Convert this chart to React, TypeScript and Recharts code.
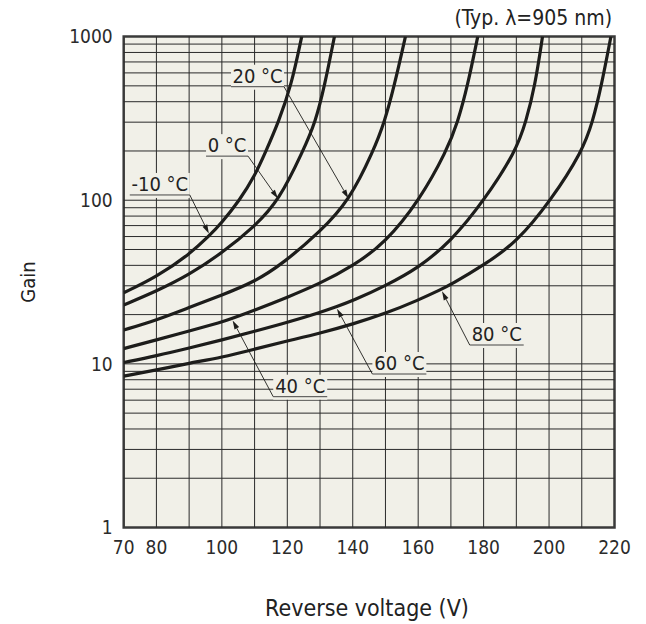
import {
  LineChart,
  Line,
  XAxis,
  YAxis,
  CartesianGrid,
  ReferenceLine,
  ReferenceArea,
  Customized,
} from "recharts";

const FONT = "'DejaVu Sans Condensed', 'DejaVu Sans', sans-serif";
const INK = "#1d1d1b";
const PAPER = "#f1f0e8";
const GRID = "#2a2a2a";

// Reverse voltage (V) and gain for each temperature
const voltM10 = [70, 80, 90, 96.3, 100, 105.4, 110, 113.5, 117.3, 121.2, 124.4];
const gainM10 = [27.2, 34, 46.5, 61, 73, 100, 140, 200, 300, 500, 1000];

const volt0 = [70, 80, 90, 100, 110, 117.5, 124.8, 128.6, 131.4, 134.4];
const gain0 = [22.9, 27.8, 35, 47.5, 69, 100, 200, 300, 500, 1000];

const volt20 = [70, 80, 90, 100, 110, 118.6, 130, 139, 146.3, 149.7, 152.7, 156.1];
const gain20 = [16.1, 18.5, 22.1, 26.3, 31.7, 41, 64, 100, 200, 300, 500, 1000];

const volt40 = [70, 80, 90, 100, 103, 110, 120, 130, 140, 150, 160.4, 168.7, 172.1, 175.1, 178.2];
const gain40 = [12.4, 14, 15.9, 18, 18.9, 21.3, 25.5, 31, 39.5, 55, 100, 200, 300, 500, 1000];

const volt60 = [70, 80, 90, 100, 110, 120, 130, 134.9, 140, 150, 160, 170, 180.2, 189.9, 192.9, 195.7, 198];
const gain60 = [10.2, 11.2, 12.5, 14, 15.8, 17.9, 20.6, 22.3, 24.3, 30, 38.5, 56, 100, 200, 300, 500, 1000];

const volt80 = [70, 80, 90, 100, 110, 120, 130, 140, 150, 160, 167, 170, 180, 190, 200.6, 210.2, 213.3, 216, 218.9];
const gain80 = [8.42, 9.17, 10.1, 10.96, 12.3, 13.8, 15.4, 17.5, 20.3, 24.5, 28.5, 30.5, 40.1, 55, 100, 200, 300, 500, 1000];

const voltTicks = [70, 80, 100, 120, 140, 160, 180, 200, 220];
const gainTicks = [1, 10, 100, 1000];
const voltGrid = [80, 90, 100, 110, 120, 130, 140, 150, 160, 170, 180, 190, 200, 210];
const gainGrid = [
  2, 3, 4, 5, 6, 7, 8, 9, 10,
  20, 30, 40, 50, 60, 70, 80, 90, 100,
  200, 300, 400, 500, 600, 700, 800, 900,
];

const toPoints = (v: number[], g: number[]) => v.map((x, i) => ({ v: x, g: g[i] }));

const curves = [
  { name: "-10 °C", data: toPoints(voltM10, gainM10) },
  { name: "0 °C", data: toPoints(volt0, gain0) },
  { name: "20 °C", data: toPoints(volt20, gain20) },
  { name: "40 °C", data: toPoints(volt40, gain40) },
  { name: "60 °C", data: toPoints(volt60, gain60) },
  { name: "80 °C", data: toPoints(volt80, gain80) },
];

// callout: underline anchor (V, gain), which curve point the arrow lands on,
// and whether the underlined text sits left or right of the anchor
const callouts = [
  { curve: 0, point: 3, at: [90.2, 107.7], side: "left", width: 60 },
  { curve: 1, point: 5, at: [108, 186], side: "left", width: 42 },
  { curve: 2, point: 7, at: [119, 494], side: "left", width: 53 },
  { curve: 3, point: 4, at: [115.7, 6.3], side: "right", width: 54 },
  { curve: 4, point: 7, at: [146, 8.67], side: "right", width: 54 },
  { curve: 5, point: 10, at: [175.75, 13.04], side: "right", width: 54 },
];

function Callout(props: any) {
  const { x1, y1, x2, y2, text, side, width } = props;
  const dx = x2 - x1;
  const dy = y2 - y1;
  const len = Math.hypot(dx, dy) || 1;
  const ux = dx / len;
  const uy = dy / len;
  // stop at the edge of the thick curve stroke
  const tx = x2 - ux * 2;
  const ty = y2 - uy * 2;
  const head = 9;
  const half = 2.6;
  const bx = tx - ux * head;
  const by = ty - uy * head;
  const pts = `${tx},${ty} ${bx - uy * half},${by + ux * half} ${bx + uy * half},${by - ux * half}`;
  const left = side === "left" ? x1 - width : x1;
  return (
    <g>
      <rect x={left} y={y1 - 22} width={width} height={25} fill={PAPER} />
      <line x1={left} y1={y1} x2={left + width} y2={y1} stroke="#444" strokeWidth={1} />
      <text
        x={left + width / 2}
        y={y1 - 4}
        textAnchor="middle"
        fontFamily={FONT}
        fontSize={20}
        fill="#222"
      >
        {text}
      </text>
      <line x1={x1} y1={y1} x2={bx} y2={by} stroke={INK} strokeWidth={0.9} />
      <polygon points={pts} fill={INK} />
    </g>
  );
}

function Titles() {
  return (
    <g fontFamily={FONT} fill="#222">
      <text x={612} y={25} textAnchor="end" fontSize={21}>
        (Typ. λ=905 nm)
      </text>
      <text
        x={28}
        y={282}
        textAnchor="middle"
        dominantBaseline="central"
        fontSize={20}
        transform="rotate(-90 28 282)"
      >
        Gain
      </text>
      <text x={367} y={608} textAnchor="middle" dominantBaseline="central" fontSize={23}>
        Reverse voltage (V)
      </text>
    </g>
  );
}

export default function App() {
  return (
    <div style={{ position: "absolute", left: 0, top: 0, width: 646, height: 624, background: "#fff" }}>
      <LineChart
        width={646}
        height={624}
        margin={{ top: 36.6, right: 31.5, bottom: 56.5, left: 63.7 }}
      >
        <CartesianGrid horizontal={false} vertical={false} fill={PAPER} fillOpacity={1} />
        <XAxis
          type="number"
          dataKey="v"
          domain={[70, 220]}
          ticks={voltTicks}
          interval={0}
          allowDataOverflow
          height={40}
          axisLine={false}
          tickLine={false}
          tickSize={0}
          tickMargin={13}
          tick={{ fill: "#2b2b2b", fontSize: 19, fontFamily: FONT }}
        />
        <YAxis
          type="number"
          scale="log"
          domain={[1, 1000]}
          ticks={gainTicks}
          interval={0}
          allowDataOverflow
          width={60}
          axisLine={false}
          tickLine={false}
          tickSize={0}
          tickMargin={11}
          tick={{ fill: "#2b2b2b", fontSize: 19, fontFamily: FONT }}
        />
        {voltGrid.map((v) => (
          <ReferenceLine key={`v${v}`} x={v} stroke={GRID} strokeWidth={1} />
        ))}
        {gainGrid.map((g) => (
          <ReferenceLine key={`g${g}`} y={g} stroke={GRID} strokeWidth={1} />
        ))}
        {curves.map((c) => (
          <Line
            key={c.name}
            data={c.data}
            dataKey="g"
            type="basis"
            stroke={INK}
            strokeWidth={3.2}
            dot={false}
            isAnimationActive={false}
          />
        ))}
        <ReferenceArea x1={70} x2={220} y1={1} y2={1000} fill="none" stroke="#3a3a3a" strokeWidth={2.5} />
        {callouts.map((c) => {
          const tip = curves[c.curve].data[c.point];
          return (
            <ReferenceLine
              key={curves[c.curve].name}
              segment={[
                { x: c.at[0], y: c.at[1] },
                { x: tip.v, y: tip.g },
              ]}
              shape={(p: any) => (
                <Callout {...p} text={curves[c.curve].name} side={c.side} width={c.width} />
              )}
            />
          );
        })}
        <Customized component={Titles} />
      </LineChart>
    </div>
  );
}
